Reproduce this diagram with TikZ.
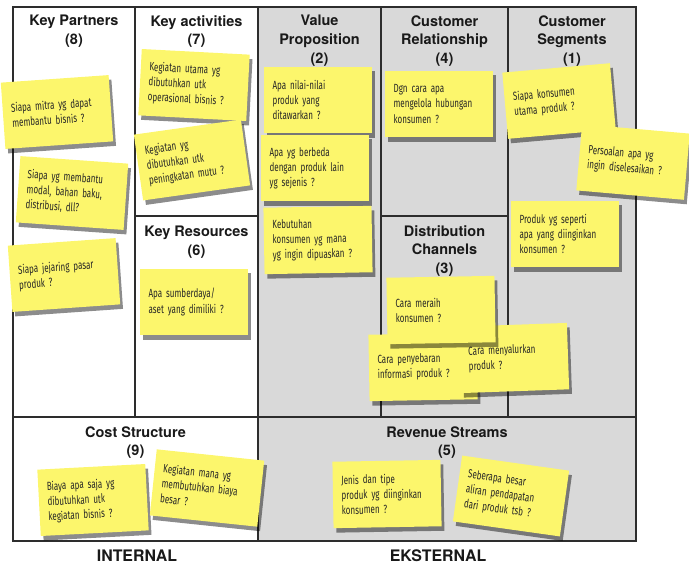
\documentclass[tikz,border=0pt]{standalone}
\usepackage{fontspec}
\setmainfont{TeX Gyre Heros}
\newfontfamily\notefont[FakeStretch=0.68]{Fira Sans}
\newcommand\notetext{\notefont\fontsize{8.4}{10.7}\selectfont\hyphenpenalty=10000\relax}
\usetikzlibrary{shadows}
\definecolor{postit}{RGB}{252,246,108}
\definecolor{panel}{RGB}{217,217,217}
\definecolor{rule}{RGB}{45,45,45}

\begin{document}
\begin{tikzpicture}[x=0.025cm, y=-0.025cm]
    \tikzstyle{title}=[font=\bfseries\fontsize{10.3}{13.3}\selectfont, align=center, text=black!90, anchor=north, inner sep=0pt]
    \tikzstyle{side}=[font=\bfseries\fontsize{11.3}{13}\selectfont, text=black!90]
    \tikzstyle{note}=[fill=postit, drop shadow={shadow xshift=2pt, shadow yshift=-3.2pt, fill=black, opacity=0.45},
      minimum width=2.7cm, minimum height=1.66cm, text width=2.27cm, inner xsep=0.215cm,
      align=left, text=black!85, font=\notetext]
    \useasboundingbox (0,0) rectangle (689,565);
    % the canvas
    \fill[panel] (258,7) rectangle (636,541);
    \draw[rule, line width=0.8pt] (13,7) rectangle (636,541);
    \draw[rule, line width=0.8pt] (13,417) -- (636,417) (258,7) -- (258,541)
      (135,7) -- (135,417) (381,7) -- (381,417) (508,7) -- (508,417)
      (135,216) -- (258,216) (381,216) -- (508,216);
    \node[title] (partners) at (74,15) {Key Partners\\(8)};
    \node[title] (activities) at (196.5,15) {Key activities\\(7)};
    \node[title] (value) at (319.5,15) {Value\\Proposition\\(2)};
    \node[title] (relation) at (444.5,15) {Customer\\Relationship\\(4)};
    \node[title] (segments) at (572,15) {Customer\\Segments\\(1)};
    \node[title] (resources) at (196.5,226) {Key Resources\\(6)};
    \node[title] (channels) at (444.5,225) {Distribution\\Channels\\(3)};
    \node[title] (cost) at (135.5,426) {Cost Structure\\(9)};
    \node[title] (revenue) at (447,426) {Revenue Streams\\(5)};
    \node[side] (internal) at (137,556) {INTERNAL};
    \node[side] (external) at (438,556) {EKSTERNAL};
    % sticky notes
    \node[note, rotate=4] (partnerA) at (57,112) {Siapa mitra yg dapat\\membantu bisnis ?};
    \node[note, rotate=-4] (partnerB) at (72,193) {Siapa yg membantu\\modal, bahan baku,\\distribusi, dll?};
    \node[note, rotate=4] (partnerC) at (64,275) {Siapa jejaring pasar\\produk ?};
    \node[note, rotate=-3] (activityA) at (194,85) {Kegiatan utama yg\\dibutuhkan utk\\operasional bisnis ?};
    \node[note, rotate=8] (activityB) at (192,160) {Kegiatan yg\\dibutuhkan utk\\peningkatan mutu ?};
    \node[note] (resourceA) at (194,302) {Apa sumberdaya/\\aset yang dimiliki ?};
    \node[note] (valueA) at (318,100) {Apa nilai-nilai\\produk yang\\ditawarkan ?};
    \node[note] (valueB) at (315,168) {Apa yg berbeda\\dengan produk lain\\yg sejenis ?};
    \node[note, rotate=1] (valueC) at (318,240) {Kebutuhan\\konsumen yg mana\\yg ingin dipuaskan ?};
    \node[note] (relationA) at (439,104) {Dgn cara apa\\mengelola hubungan\\konsumen ?};
    \node[note, rotate=5] (segmentA) at (559,101) {Siapa konsumen\\utama produk ?};
    \node[note, rotate=-5] (segmentB) at (633,162) {Persoalan apa yg\\ingin diselesaikan ?};
    \node[note] (segmentC) at (565,234) {Produk yg seperti\\apa yang diinginkan\\konsumen ?};
    \node[note, rotate=1] (channelB) at (423,367) {Cara penyebaran\\informasi produk ?};
    \node[note, rotate=2] (channelC) at (514,358) {Cara menyalurkan\\produk ?};
    \node[note, rotate=1] (channelA) at (441,310) {Cara meraih\\konsumen ?};
    \node[note, rotate=3] (costA) at (93,500) {Biaya apa saja yg\\dibutuhkan utk\\kegiatan bisnis ?};
    \node[note, rotate=-6] (costB) at (207,488) {Kegiatan mana yg\\membutuhkan biaya\\besar ?};
    \node[note, rotate=1] (revenueA) at (387,494) {Jenis dan tipe\\produk yg diinginkan\\konsumen ?};
    \node[note, rotate=-8] (revenueB) at (511,496) {Seberapa besar\\aliran pendapatan\\dari produk tsb ?};
\end{tikzpicture}
\end{document}
